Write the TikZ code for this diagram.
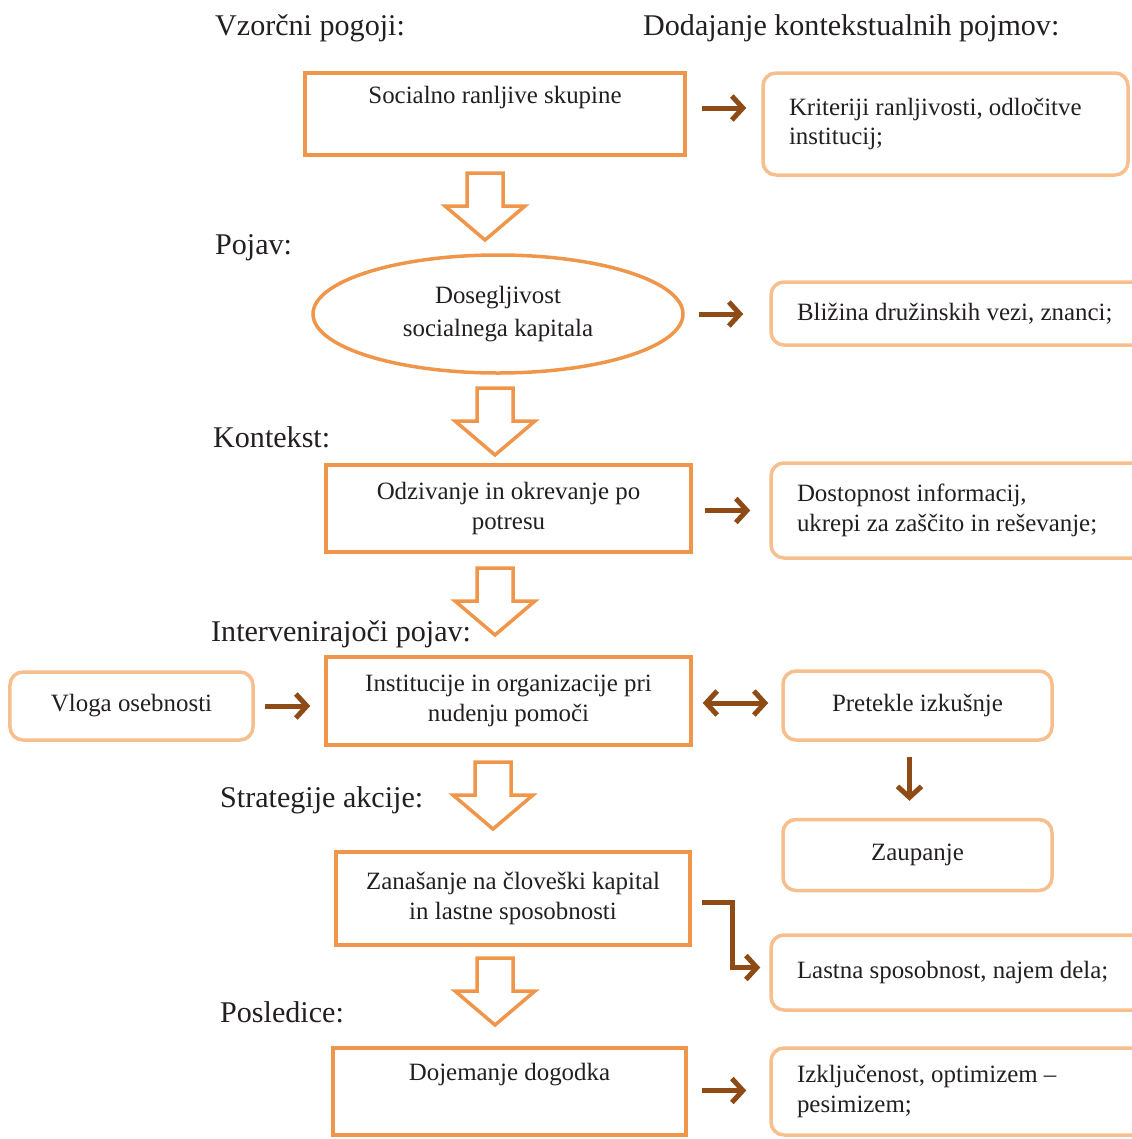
\documentclass[tikz,border=0pt]{standalone}
\usepackage{fontspec}
\setmainfont{Liberation Serif}
\usetikzlibrary{arrows.meta, positioning, calc, shapes.geometric}
\definecolor{oMain}{HTML}{F0964B}
\definecolor{oLight}{HTML}{F8BF8E}
\definecolor{brn}{HTML}{8E4B16}
\definecolor{txt}{HTML}{231F20}
\tikzset{
  % step headings left of the central column
  head/.style={anchor=west, inner sep=0pt, font=\fontsize{30.2}{35}\selectfont, text=txt},
  % central column boxes (sharp corners, strong orange)
  M/.style={draw=oMain, line width=3.5bp, fill=white, align=center, inner sep=2bp,
    font=\fontsize{25}{30}\selectfont, text=txt},
  Mell/.style={M, ellipse},
  % context boxes (rounded, light orange)
  R/.style={draw=oLight, line width=3.5bp, rounded corners=13bp, align=flush left,
    inner xsep=26bp, inner ysep=2bp, font=\fontsize{25}{30}\selectfont, text=txt},
  Rc/.style={R, align=center, inner xsep=2bp},
  % brown connectors
  B/.style={draw=brn, line width=5bp, -{Straight Barb[length=11bp,width=24bp]}},
  BB/.style={B, {Straight Barb[length=11bp,width=24bp]}-{Straight Barb[length=11bp,width=24bp]}},
  % hollow block arrow of the main flow
  pics/hollow/.style={code={
    \draw[draw=oMain, line width=3.5bp, fill=white, line join=miter]
      (-18,0) -- (18,0) -- (18,33) -- (40,33) -- (0,67) -- (-40,33) -- (-18,33) -- cycle;}},
}

\begin{document}
\begin{tikzpicture}[x=1bp, y=-1bp]
\useasboundingbox (0,0) rectangle (1132,1139);

% ---- headings ----
\node[head] (hVz)  at (215,28)  {Vzorčni pogoji:};
\node[head] (hDod) at (643,28)  {Dodajanje kontekstualnih pojmov:};
\node[head] (hPo)  at (215,248) {Pojav:};
\node[head] (hKo)  at (213,437) {Kontekst:};
\node[head] (hIn)  at (211,634) {Intervenirajoči pojav:};
\node[head] (hSt)  at (220,800) {Strategije akcije:};
\node[head] (hPos) at (220,1012) {Posledice:};

% ---- central column ----
\node[M, minimum width=380bp, minimum height=82bp] (m1) at (495,114)
  {Socialno ranljive skupine\\\strut};
\node[Mell, minimum width=370bp, minimum height=118bp] (m2) at (498,314)
  {Dosegljivost\\[3bp]socialnega kapitala};
\node[M, minimum width=365bp, minimum height=87bp] (m3) at (508.5,508.5)
  {Odzivanje in okrevanje po\\potresu};
\node[M, minimum width=365bp, minimum height=88bp] (m4) at (508.5,701)
  {Institucije in organizacije pri\\nudenju pomoči};
\node[M, minimum width=354bp, minimum height=93bp] (m5) at (513,898.5)
  {Zanašanje na človeški kapital\\in lastne sposobnosti};
\node[M, minimum width=353bp, minimum height=87bp] (m6) at (509.5,1091.5)
  {Dojemanje dogodka\\\strut};

\pic (a1) at (485,173) {hollow};
\pic (a2) at (495,388) {hollow};
\pic (a3) at (495,568) {hollow};
\pic (a4) at (493,762) {hollow};
\pic (a5) at (495,958) {hollow};

% ---- context boxes ----
\node[R, text width=313bp, minimum height=102bp] (r1) at (945.5,124)
  {Kriteriji ranljivosti, odločitve\\institucij;};
\node[R, text width=340bp, minimum height=63bp] (r2) at (967,313.5)
  {Bližina družinskih vezi, znanci;};
\node[R, text width=340bp, minimum height=95bp] (r3) at (967,510.5)
  {Dostopnost informacij,\\ukrepi za zaščito in reševanje;};
\node[Rc, minimum width=269bp, minimum height=69bp] (r4) at (917.5,705.5)
  {Pretekle izkušnje};
\node[Rc, minimum width=269bp, minimum height=71bp, below=76bp of r4] (r5)
  {Zaupanje};
\node[R, text width=340bp, minimum height=75bp] (r6) at (967,972.5)
  {Lastna sposobnost, najem dela;};
\node[R, text width=340bp, minimum height=87bp] (r7) at (967,1091.5)
  {Izključenost, optimizem –\\pesimizem;};
\node[Rc, minimum width=243bp, minimum height=68bp] (lv) at (131.5,706)
  {Vloga osebnosti};

% ---- connectors ----
\draw[B] ($(m1.east)+(15,-6)$) -- ($(m1.east -| r1.west)+(-15,-6)$);
\draw[B, shorten <=14bp, shorten >=26bp] (m2.east) -- (m2.east -| r2.west);
\draw[B, shorten <=12bp, shorten >=19bp] ($(m3.east)+(0,2)$) -- ($(m3.east -| r3.west)+(0,2)$);
\draw[B, shorten <=10bp, shorten >=14bp] (lv.east) -- (lv.east -| m4.west);
\draw[BB, shorten <=10bp, shorten >=13bp] ($(m4.east)+(0,2)$) -- ($(m4.east -| r4.west)+(0,2)$);
\draw[B, shorten <=15bp, shorten >=17bp] ($(r4.south)+(-8,0)$) -- ($(r5.north)+(-8,0)$);
\draw[B] ($(m5.east)+(10,4)$) -- ++(31,0) |- ($(r6.west)+(-9,-5)$);
\draw[B, shorten <=14bp, shorten >=23bp] ($(m6.east)+(0,-1)$) -- ($(m6.east -| r7.west)+(0,-1)$);

\end{tikzpicture}
\end{document}
